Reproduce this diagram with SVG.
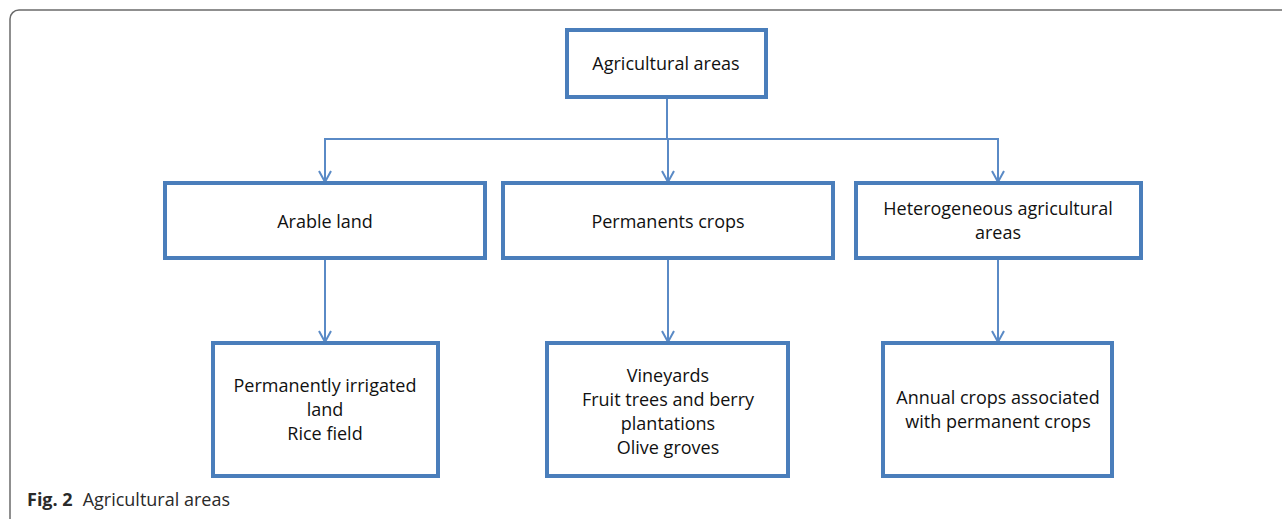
<svg xmlns="http://www.w3.org/2000/svg" width="1282" height="519" viewBox="0 0 1282 519">
<defs>
<style>
.box{fill:#fff;stroke:#4a7ebb;stroke-width:4}
.t{font-family:"Open Sans","Liberation Sans",sans-serif;font-size:18px;fill:#111;text-anchor:middle}
.c{fill:none;stroke:#5a8ac6;stroke-width:2}
.cap{font-family:"Open Sans","Liberation Sans",sans-serif;font-size:18px;fill:#2a2a2a}
</style>
<marker id="ah" markerWidth="14" markerHeight="14" refX="12" refY="7" orient="auto" markerUnits="userSpaceOnUse" viewBox="0 0 14 14">
<path d="M1,1 L12,7 L1,13" fill="none" stroke="#5a8ac6" stroke-width="2"/>
</marker>
</defs>
<rect width="1282" height="519" fill="#fff"/>
<rect x="10" y="10" width="1300" height="540" rx="9" ry="9" fill="none" stroke="#6b6b6b" stroke-width="1.5"/>
<g id="connectors">
<line class="c" x1="667" y1="97" x2="667" y2="139"/>
<line class="c" x1="324" y1="139" x2="999" y2="139"/>
<line class="c" x1="325" y1="139" x2="325" y2="182" marker-end="url(#ah)"/>
<line class="c" x1="668" y1="139" x2="668" y2="182" marker-end="url(#ah)"/>
<line class="c" x1="998" y1="139" x2="998" y2="182" marker-end="url(#ah)"/>
<line class="c" x1="325" y1="258" x2="325" y2="342" marker-end="url(#ah)"/>
<line class="c" x1="668" y1="258" x2="668" y2="342" marker-end="url(#ah)"/>
<line class="c" x1="998" y1="258" x2="998" y2="342" marker-end="url(#ah)"/>
</g>
<g id="n-agri">
<rect class="box" x="567" y="30" width="199" height="67"/>
<text class="t" x="666" y="70">Agricultural areas</text>
</g>
<g id="n-arable">
<rect class="box" x="165" y="183" width="320" height="75"/>
<text class="t" x="325" y="228">Arable land</text>
</g>
<g id="n-perm">
<rect class="box" x="503" y="183" width="330" height="75"/>
<text class="t" x="668" y="228">Permanents crops</text>
</g>
<g id="n-hetero">
<rect class="box" x="856" y="183" width="285" height="75"/>
<text class="t" x="998" y="215">Heterogeneous agricultural</text>
<text class="t" x="998" y="239">areas</text>
</g>
<g id="n-irrig">
<rect class="box" x="213" y="343" width="225" height="133"/>
<text class="t" x="325" y="392">Permanently irrigated</text>
<text class="t" x="325" y="416">land</text>
<text class="t" x="325" y="440">Rice field</text>
</g>
<g id="n-vine">
<rect class="box" x="547" y="343" width="241" height="133"/>
<text class="t" x="668" y="382">Vineyards</text>
<text class="t" x="668" y="406">Fruit trees and berry</text>
<text class="t" x="668" y="430">plantations</text>
<text class="t" x="668" y="454">Olive groves</text>
</g>
<g id="n-annual">
<rect class="box" x="883" y="343" width="229" height="133"/>
<text class="t" x="998" y="404">Annual crops associated</text>
<text class="t" x="998" y="428">with permanent crops</text>
</g>
<text class="cap" x="27" y="506"><tspan font-weight="bold">Fig. 2</tspan><tspan dx="10">Agricultural areas</tspan></text>
</svg>
